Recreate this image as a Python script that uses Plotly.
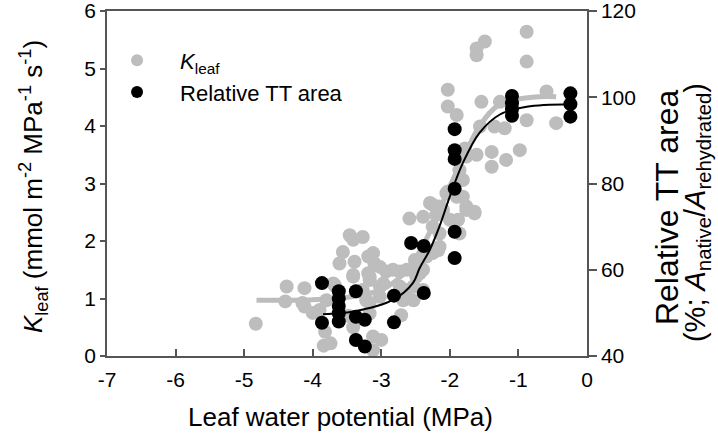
import plotly.graph_objects as go

# Kleaf data (grey): leaf water potential (MPa), Kleaf (mmol m-2 MPa-1 s-1)
kleaf_x = [-4.83, -4.38, -4.12, -4.40, -4.12, -3.90, -4.15, -4.00, -3.68,
           -3.82, -3.84, -3.74, -3.48, -3.41, -3.12, -3.00, -3.12, -3.17,
           -3.46, -3.41, -3.56, -3.61, -3.39, -3.41, -3.19, -3.19, -3.12, -3.10, -3.27,
           -3.41, -3.17, -2.93, -2.73, -2.49, -2.39,
           -3.27, -3.02, -2.63, -3.70, -3.80, -3.17, -2.68, -2.71,
           -3.02, -2.83, -2.63, -2.44,
           -3.17, -2.97, -2.73, -2.53, -2.39,
           -3.22, -3.02, -2.53,
           -2.59, -2.39, -2.20, -2.15, -2.20, -2.34, -2.51, -2.51, -2.44, -2.25, -2.29,
           -2.05, -2.03, -1.90, -1.81, -1.76, -1.86, -1.81, -1.76, -1.64, -1.64,
           -2.15, -2.10, -2.00, -1.88, -2.25, -1.86, -2.15, -2.25, -2.17,
           -0.88, -0.88, -1.49, -1.61, -1.61,
           -2.03, -2.03, -1.90, -1.54, -1.27, -1.10, -0.59, -0.88, -0.45,
           -1.56, -1.35, -1.20,
           -1.78, -1.61, -1.39, -1.18, -0.98, -1.39, -1.76]
kleaf_y = [0.56, 1.21, 1.18, 0.95, 0.86, 0.80, 0.92, 0.75, 1.23,
           0.42, 0.18, 0.22, 0.70, 0.50, 0.34, 0.28, 0.10, 0.74,
           2.10, 2.02, 1.81, 1.61, 1.64, 1.41, 1.73, 1.44, 1.79, 1.61, 2.07,
           1.38, 1.38, 1.47, 1.47, 1.38, 1.50,
           1.15, 1.21, 1.15, 1.26, 0.97, 0.92, 0.97, 0.71,
           1.55, 1.50, 1.50, 1.44,
           1.32, 1.26, 1.21, 1.21, 1.15,
           0.97, 1.03, 0.97,
           2.39, 2.42, 2.45, 2.13, 1.87, 1.73, 1.67, 1.53, 1.67, 2.63, 2.66,
           2.83, 2.86, 2.77, 2.77, 2.54, 3.23, 3.06, 2.60, 2.48, 2.51,
           2.60, 2.54, 2.37, 2.37, 2.25, 2.13, 1.90, 1.79, 1.84,
           5.64, 5.12, 5.47, 5.35, 5.23,
           4.63, 4.34, 4.19, 4.42, 4.42, 4.37, 4.60, 4.10, 4.05,
           3.99, 3.99, 3.96,
           3.61, 3.50, 3.55, 3.41, 3.58, 3.29, 3.47]

# Kleaf fitted curve (grey line)
kfit_x = [-4.82, -4.0, -3.5, -3.0, -2.7, -2.5, -2.25, -2.0, -1.8, -1.565, -1.27, -0.8, -0.45]
kfit_y = [0.97, 0.98, 1.02, 1.15, 1.40, 1.70, 2.26, 2.95, 3.45, 4.00, 4.38, 4.50, 4.51]

# Relative TT area (black): leaf water potential (MPa), %
tt_x = [-3.865, -3.865, -3.62, -3.62, -3.62, -3.62, -3.62, -3.37, -3.37, -3.24,
        -3.37, -3.24, -2.815, -2.815, -2.38, -2.565, -2.38,
        -1.93, -1.93, -1.93, -1.93, -1.93, -1.93,
        -1.094, -1.094, -1.094, -1.094, -0.242, -0.242, -0.242]
tt_y = [56.9, 47.7, 55.0, 53.3, 51.6, 49.9, 48.0, 55.0, 49.1, 48.4,
        43.7, 42.2, 54.0, 47.8, 54.6, 66.2, 65.5,
        92.6, 87.7, 85.7, 78.8, 68.8, 62.7,
        100.3, 98.6, 97.2, 95.7, 100.9, 98.4, 95.5]

# Relative TT area fitted curve (black line)
ttfit_x = [-3.85, -3.41, -2.83, -2.54, -2.44, -2.29, -2.15, -2.0, -1.81, -1.565, -1.27, -0.88, -0.25]
ttfit_y = [49.7, 50.3, 53.0, 56.9, 60.4, 64.7, 70.1, 77.0, 84.8, 91.8, 96.0, 97.8, 98.4]

# x tick labels (plain hyphen minus, as in the reference)
x_tick_vals = [-7, -6, -5, -4, -3, -2, -1, 0]
x_tick_text = ["-7", "-6", "-5", "-4", "-3", "-2", "-1", "0"]

GREY = "#bdbdbd"
AX = "#555555"
FONT = "Liberation Sans, Arial, sans-serif"

fig = go.Figure()
fig.add_trace(go.Scatter(x=kfit_x, y=kfit_y, mode="lines", line=dict(color=GREY, width=5, shape="spline"),
                         showlegend=False, hoverinfo="skip"))
fig.add_trace(go.Scatter(x=kleaf_x, y=kleaf_y, mode="markers", name="<i>K</i><sub>leaf</sub>",
                         marker=dict(color=GREY, size=14, line=dict(width=0))))
fig.add_trace(go.Scatter(x=tt_x, y=tt_y, mode="markers", name="Relative TT area", yaxis="y2",
                         marker=dict(color="black", size=14, line=dict(width=0))))
fig.add_trace(go.Scatter(x=ttfit_x, y=ttfit_y, mode="lines", yaxis="y2",
                         line=dict(color="black", width=2, shape="spline"),
                         showlegend=False, hoverinfo="skip"))

fig.update_layout(
    width=718, height=435,
    margin=dict(l=107, r=131, t=11, b=79),
    paper_bgcolor="white", plot_bgcolor="white",
    font=dict(family=FONT, size=21, color="black"),
    showlegend=True,
    legend=dict(x=-0.027, y=0.81, xanchor="left", yanchor="middle", bgcolor="rgba(0,0,0,0)",
                font=dict(size=22), itemsizing="constant", itemwidth=76, tracegroupgap=0),
    xaxis=dict(range=[-7, 0], tickmode="array", tickvals=x_tick_vals, ticktext=x_tick_text,
               showgrid=False, zeroline=False, automargin=False,
               showline=True, linecolor=AX, linewidth=1.5, mirror=True,
               ticks="inside", ticklen=7, tickcolor=AX, tickwidth=1.5,
               ticklabelstandoff=4, tickfont=dict(size=21)),
    yaxis=dict(range=[0, 6], dtick=1, showgrid=False, zeroline=False, automargin=False,
               showline=True, linecolor=AX, linewidth=1.5, ticklabeloverflow="allow",
               ticks="outside", ticklen=5, tickcolor=AX, tickwidth=1.5,
               tickfont=dict(size=21)),
    yaxis2=dict(range=[40, 120], dtick=20, overlaying="y", side="right", showgrid=False, zeroline=False,
                automargin=False, ticklabeloverflow="allow",
                showline=True, linecolor=AX, linewidth=1.5,
                ticks="outside", ticklen=8, tickcolor=AX, tickwidth=1.5,
                tickfont=dict(size=21)),
)

fig.add_annotation(text="Leaf water potential (MPa)", xref="paper", yref="paper",
                   x=0.487, y=-0.178, xanchor="center", yanchor="middle", showarrow=False,
                   font=dict(size=26))
fig.add_annotation(text="<i>K</i><sub>leaf</sub> (mmol m<sup>-2</sup> MPa<sup>-1</sup> s<sup>-1</sup>)",
                   xref="paper", yref="paper", x=-0.154, y=0.49, xanchor="center", yanchor="middle",
                   textangle=-90, showarrow=False, font=dict(size=26))
fig.add_annotation(text="Relative TT area", xref="paper", yref="paper",
                   x=1.167, y=0.432, xanchor="center", yanchor="middle",
                   textangle=-90, showarrow=False, font=dict(size=32))
fig.add_annotation(text="(%; <i>A</i><sub>native</sub>/<i>A</i><sub>rehydrated</sub>)", xref="paper", yref="paper",
                   x=1.229, y=0.417, xanchor="center", yanchor="middle",
                   textangle=-90, showarrow=False, font=dict(size=29))

fig.write_html("out.html", config={"displayModeBar": False},
               post_script="document.body.style.margin='0';")
